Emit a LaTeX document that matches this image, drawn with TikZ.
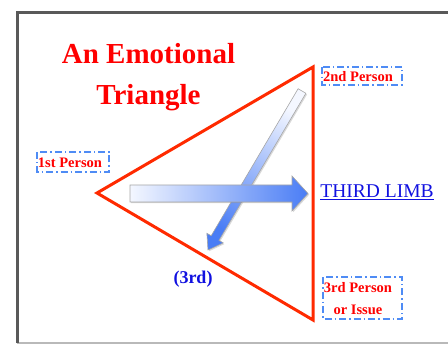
\documentclass[tikz,border=0pt]{standalone}
\usepackage{fontspec}
\setmainfont{Liberation Serif}
\usetikzlibrary{shadows,calc}
\definecolor{tri}{HTML}{FF2A00}
\definecolor{boxblue}{HTML}{4F8CF5}
\definecolor{arrblue}{HTML}{4A7DF5}
\definecolor{arrwhite}{HTML}{F4F7FF}
\definecolor{txtblue}{HTML}{1010E0}
\tikzset{
  lbl/.style={font=\fontsize{14.5}{15}\selectfont\bfseries, text=red, inner sep=0pt},
  lblbox/.style={draw=boxblue, line width=1.4pt, dash pattern=on 7pt off 3pt on 1.5pt off 3pt},
  arrowbody/.style={draw=gray!70, line width=0.6pt, drop shadow={opacity=0.3, shadow xshift=1.2pt, shadow yshift=-1.2pt}},
}
\begin{document}
\begin{tikzpicture}[x=1pt,y=-1pt]
\useasboundingbox (0,0) rectangle (448,345);
\clip (0,0) rectangle (448,345);
% frame
\draw[gray!55, line width=1.5pt] (17,343) -- (450,343);
\draw[black!65, line width=3pt] (17,343) -- (17,13) -- (450,13);
% title
\node[font=\fontsize{29}{30}\selectfont\bfseries, text=red, inner sep=0pt] (t1) at (148.5,54) {An Emotional};
\node[font=\fontsize{29}{30}\selectfont\bfseries, text=red, inner sep=0pt] (t2) at (148.5,98) {Triangle};
% triangle
\coordinate (p1) at (97,193);
\coordinate (p2) at (313,67);
\coordinate (p3) at (313,320);
\draw[tri, line width=3pt, line join=miter] (p1) -- (p2) -- (p3) -- cycle;
% diagonal arrow
\coordinate (dA) at (302,91);
\coordinate (dT) at (208,250);
\path[arrowbody, top color=arrwhite, bottom color=arrblue, shading angle=-31]
  ($(dA)!4.5pt!90:(dT)$) --
  ($($(dA)!0.925!(dT)$)!4.5pt!90:(dT)$) --
  ($($(dA)!0.925!(dT)$)!9.5pt!90:(dT)$) --
  (dT) --
  ($($(dA)!0.925!(dT)$)!9.5pt!-90:(dT)$) --
  ($($(dA)!0.925!(dT)$)!4.5pt!-90:(dT)$) --
  ($(dA)!4.5pt!-90:(dT)$) -- cycle;
% horizontal arrow
\path[arrowbody, left color=arrwhite, right color=arrblue]
  (130,185) -- (292,185) -- (292,176) -- (308,193.5) -- (292,211) -- (292,202) -- (130,202) -- cycle;
% labels
\node[lbl] (l2) at (358,77) {2nd Person};
\draw[lblbox] (322,67) rectangle (402,85);
\node[lbl] (l1) at (70,163) {1st Person};
\draw[lblbox] (37,152) rectangle (109,172);
\node[lbl, align=center, font=\fontsize{14.5}{22}\selectfont\bfseries] (l3) at (358,299) {3rd Person\\or Issue};
\draw[lblbox] (323,277) rectangle (402,319);
\node[font=\fontsize{19.5}{20}\selectfont, text=txtblue, inner sep=0pt] (tl) at (377,192) {\underline{THIRD LIMB}};
\node[font=\fontsize{18}{19}\selectfont\bfseries, text=txtblue, inner sep=0pt] (r3) at (193,279) {(3rd)};
\end{tikzpicture}
\end{document}
